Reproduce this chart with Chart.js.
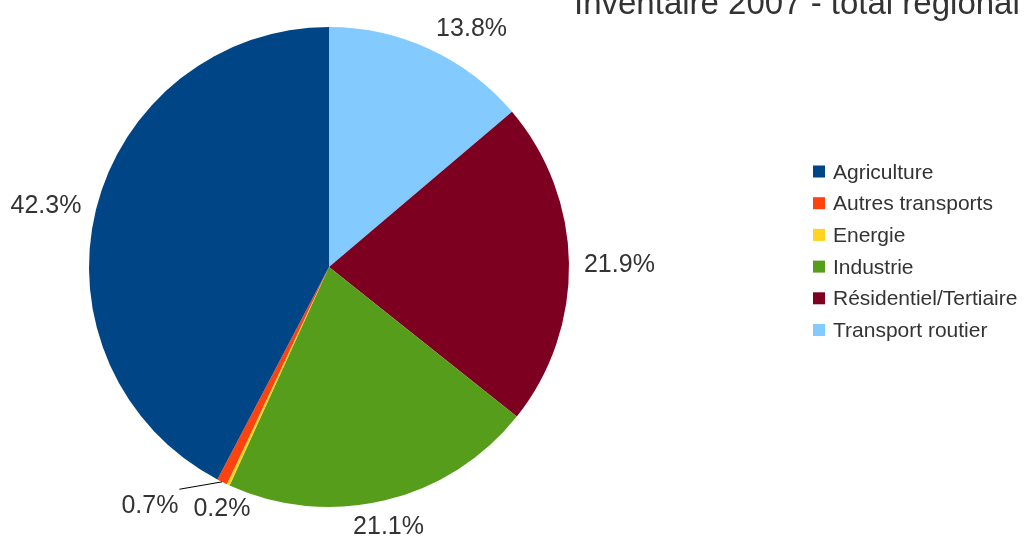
<!DOCTYPE html>
<html>
<head>
<meta charset="utf-8">
<script src="https://cdn.jsdelivr.net/npm/chart.js@4/dist/chart.umd.min.js"></script>
<style>
  html, body { margin: 0; padding: 0; background: #fff; overflow: hidden; }
  #wrap { width: 1026px; height: 539px; position: relative; }
</style>
</head>
<body>
<div id="wrap"><canvas id="myCanvas"></canvas></div>
<script>
const categories = ['Agriculture', 'Autres transports', 'Energie', 'Industrie', 'Résidentiel/Tertiaire', 'Transport routier'];
const shares = [42.3, 0.7, 0.2, 21.1, 21.9, 13.8];
const colors = ['#004586', '#ff420e', '#ffd320', '#579d1c', '#7e0021', '#83caff'];
const chartTitle = 'Inventaire 2007 - total régional';

const FONT = '"Liberation Sans", Arial, sans-serif';
const TEXT = '#333333';

// slices run counter-clockwise from 12 o'clock in legend order,
// chart.js draws clockwise so feed it the reversed lists
const pieLabels = categories.slice().reverse();
const pieData = shares.slice().reverse();
const pieColors = colors.slice().reverse();

const sliceLabels = {
  id: 'sliceLabels',
  afterDatasetsDraw(chart) {
    const ctx = chart.ctx;
    const meta = chart.getDatasetMeta(0);
    const data = chart.data.datasets[0].data;
    const total = data.reduce((a, b) => a + b, 0);
    ctx.save();
    ctx.font = '25px ' + FONT;
    ctx.fillStyle = TEXT;
    ctx.textAlign = 'center';
    ctx.textBaseline = 'alphabetic';
    const h = 20;
    let prev = null;
    meta.data.forEach((arc, i) => {
      const p = arc.getProps(['x', 'y', 'startAngle', 'endAngle', 'outerRadius'], true);
      const mid = (p.startAngle + p.endAngle) / 2;
      const cx = Math.cos(mid), sy = Math.sin(mid);
      const txt = (data[i] / total * 100).toFixed(1) + '%';
      const w = ctx.measureText(txt).width;
      const ax = p.x + (p.outerRadius + 15) * cx;
      const ay = p.y + (p.outerRadius + 15) * sy;
      // labels in the upper half hang off to the side sooner than the lower ones
      const lim = sy < 0 ? 0.3 : 0.5;
      let x = ax + (Math.abs(cx) > lim ? Math.sign(cx) * w / 2 : 0);
      let y = ay + sy * h / 2;
      let box = { l: x - w / 2, r: x + w / 2, t: y - h / 2, b: y + h / 2 };
      let moved = false;
      if (prev && box.l < prev.r && box.r > prev.l && box.t < prev.b && box.b > prev.t) {
        const dir = cx < 0 ? -1 : 1;
        const shift = dir < 0 ? (box.r - prev.l + 15) : (prev.r - box.l + 15);
        x += dir * shift;
        box = { l: x - w / 2, r: x + w / 2, t: y - h / 2, b: y + h / 2 };
        moved = true;
      }
      if (moved) {
        ctx.beginPath();
        ctx.strokeStyle = '#000';
        ctx.lineWidth = 1;
        ctx.moveTo(p.x + p.outerRadius * cx, p.y + p.outerRadius * sy);
        ctx.lineTo(cx < 0 ? box.r + 1 : box.l - 1, box.t - 5);
        ctx.stroke();
      }
      ctx.fillText(txt, x, y + 9);
      prev = box;
    });
    ctx.restore();
  }
};

const sideLegend = {
  id: 'sideLegend',
  afterDraw(chart) {
    const ctx = chart.ctx;
    ctx.save();
    // title, partly above the top edge like in the original
    ctx.font = '33px ' + FONT;
    ctx.fillStyle = TEXT;
    ctx.textAlign = 'left';
    ctx.textBaseline = 'alphabetic';
    ctx.fillText(chartTitle, 574, 14);

    ctx.font = '21px ' + FONT;
    categories.forEach((name, i) => {
      const cy = 171.5 + i * 31.7;
      ctx.fillStyle = colors[i];
      ctx.fillRect(813, cy - 6, 12, 12);
      ctx.fillStyle = TEXT;
      ctx.fillText(name, 833, cy + 7);
    });
    ctx.restore();
  }
};

const ctx = document.getElementById('myCanvas').getContext('2d');
new Chart(ctx, {
  type: 'pie',
  data: {
    labels: pieLabels,
    datasets: [{
      data: pieData,
      backgroundColor: pieColors,
      borderWidth: 0
    }]
  },
  options: {
    responsive: true,
    maintainAspectRatio: false,
    animation: false,
    layout: { padding: { left: 89, right: 457, top: 27, bottom: 32 } },
    plugins: {
      legend: { display: false },
      tooltip: { enabled: false }
    }
  },
  plugins: [sliceLabels, sideLegend]
});
</script>
</body>
</html>
